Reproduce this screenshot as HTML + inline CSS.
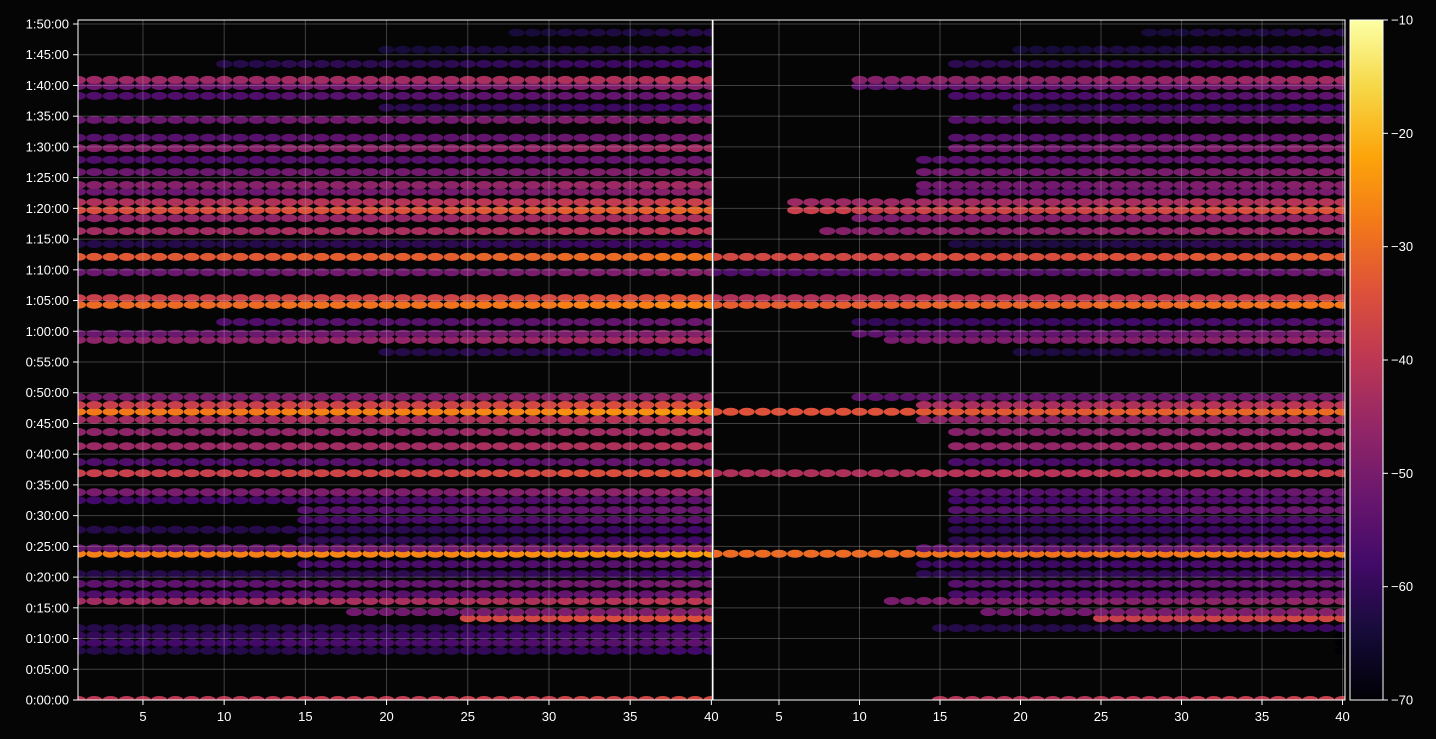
<!DOCTYPE html>
<html><head><meta charset="utf-8"><style>
body{margin:0;background:#050505;}
svg{display:block;font-family:"Liberation Sans",sans-serif;}
</style></head><body>
<svg id="chart" width="1436" height="739" viewBox="0 0 1436 739">
<rect x="0" y="0" width="1436" height="739" fill="#050505"/>
<defs>
<linearGradient id="cb" x1="0" y1="1" x2="0" y2="0">
<stop offset="0" stop-color="#000004"/><stop offset="0.1" stop-color="#160b39"/><stop offset="0.2" stop-color="#420a68"/><stop offset="0.3" stop-color="#6a176e"/><stop offset="0.4" stop-color="#932667"/><stop offset="0.5" stop-color="#bc3754"/><stop offset="0.6" stop-color="#dd513a"/><stop offset="0.7" stop-color="#f37819"/><stop offset="0.8" stop-color="#fca50a"/><stop offset="0.9" stop-color="#f6d746"/><stop offset="1" stop-color="#fcffa4"/>
</linearGradient>
<clipPath id="clipL"><rect x="78" y="20" width="634" height="680"/></clipPath>
<clipPath id="clipR"><rect x="714" y="20" width="631" height="680"/></clipPath>
</defs>
<g id="marksL" clip-path="url(#clipL)"></g>
<g id="marksR" clip-path="url(#clipR)"></g>
<g id="grid"></g>
<g id="axes"></g>
</svg>
<script>
// rows: time in minutes
const rowTimes  = [0, 8, 9.3, 10.5, 11.7, 13.3, 14.3, 16.1, 17.2, 18.9, 20.5, 22.1, 23.8, 24.7, 26, 27.7, 29.3, 30.9, 32.5, 33.8, 36.9, 38.7, 41.3, 43.6, 45.6, 46.9, 48, 49.3, 56.6, 58.6, 59.6, 61.5, 64.3, 65.4, 69.6, 72.1, 74.2, 76.3, 78.4, 79.7, 81, 82.7, 83.8, 85.9, 87.9, 89.8, 91.5, 94.4, 96.4, 98.3, 99.9, 100.9, 103.5, 105.8, 108.6];
const leftValues  = [-40, -62, -58, -60, -62, -38, -52, -44, -56, -54, -62, -58, -27, -52, -62, -62, -58, -56, -58, -50, -38, -56, -45, -47, -44, -28, -38, -50, -63, -47, -52, -56, -30, -38, -52, -33, -62, -44, -47, -35, -42, -52, -48, -52, -56, -48, -55, -52, -62, -56, -52, -45, -62, -65, -66];
const leftStart   = [1, 1, 1, 1, 1, 25, 18, 1, 1, 1, 1, 15, 1, 1, 15, 1, 15, 15, 1, 1, 1, 1, 1, 1, 1, 1, 1, 1, 20, 1, 1, 10, 1, 1, 1, 1, 1, 1, 1, 1, 1, 1, 1, 1, 1, 1, 1, 1, 20, 1, 1, 1, 10, 20, 28];
const rightValues = [-42, -75, -75, -75, -63, -40, -52, -50, -58, -56, -62, -60, -30, -54, -62, -62, -60, -56, -59, -56, -42, -58, -47, -49, -48, -34, -44, -54, -64, -50, -54, -60, -32, -42, -56, -36, -64, -48, -50, -38, -45, -54, -52, -52, -56, -52, -56, -56, -62, -58, -54, -48, -62, -65, -66];
const rightStart  = [15, 40, 40, 40, 15, 25, 18, 12, 16, 16, 14, 14, 1, 14, 16, 16, 16, 16, 16, 16, 1, 16, 16, 16, 14, 1, 14, 10, 20, 12, 10, 10, 1, 1, 1, 1, 16, 8, 10, 6, 6, 14, 14, 14, 14, 16, 16, 16, 20, 16, 10, 10, 16, 20, 28];
// column gain per channel (dB) 1..40
const colGain = [0,0,0,0,0,0,0,0,0,0,0,0,0,1,1,1,1,1,1,1,1,1,1,1,2,2,2,2,2,2,3,3,3,3,3,3,4,4,4,4];
const xTicks = [5,10,15,20,25,30,35,40];
const yTickMinutes = [0,5,10,15,20,25,30,35,40,45,50,55,60,65,70,75,80,85,90,95,100,105,110];
const cbTicks = [-10,-20,-30,-40,-50,-60,-70];

const NS="http://www.w3.org/2000/svg";
const yOf = t => 700 - t*(676/110);
const xL = c => 78 + (c-1)*16.24;
const xR = c => 714.6 + (c-1)*16.1;
const cbY = v => 700 - (v+70)*(680/60);
const stops=[[0,0,0,4],[.1,22,11,57],[.2,66,10,104],[.3,106,23,110],[.4,147,38,103],[.5,188,55,84],[.6,221,81,58],[.7,243,120,25],[.8,252,165,10],[.9,246,215,70],[1,252,255,164]];
function cmap(v){let f=Math.max(0,Math.min(1,(v+70)/60));for(let i=1;i<stops.length;i++){if(f<=stops[i][0]){const a=stops[i-1],b=stops[i];const k=(f-a[0])/(b[0]-a[0]);return `rgb(${Math.round(a[1]+k*(b[1]-a[1]))},${Math.round(a[2]+k*(b[2]-a[2]))},${Math.round(a[3]+k*(b[3]-a[3]))})`;}}return 'rgb(252,255,164)';}
function el(tag,attrs,parent){const e=document.createElementNS(NS,tag);for(const k in attrs)e.setAttribute(k,attrs[k]);parent.appendChild(e);return e;}

const gL=document.getElementById('marksL'), gR=document.getElementById('marksR');
for(let r=0;r<rowTimes.length;r++){
  for(let c=1;c<=40;c++){
    if(c>=leftStart[r]){
      const v=leftValues[r]+colGain[c-1];
      const e=el('ellipse',{cx:xL(c),cy:yOf(rowTimes[r]),rx:8,ry:4,fill:cmap(v)},gL);
      
      
    }
    if(c>=rightStart[r]){
      const v=rightValues[r]+colGain[c-1];
      const e=el('ellipse',{cx:xR(c),cy:yOf(rowTimes[r]),rx:8,ry:4,fill:cmap(v)},gR);
      
      
    }
  }
}
const grid=document.getElementById('grid'), axes=document.getElementById('axes');
yTickMinutes.forEach(m=>{
  const y=yOf(m);
  const l=el('line',{x1:78,x2:1345,y1:y,y2:y,stroke:'#b0b0b0','stroke-opacity':0.35,'stroke-width':1},grid);
  
  
  el('line',{x1:73,x2:78,y1:y,y2:y,stroke:'#fff'},axes);
  const h=Math.floor(m/60), mm=m%60;
  const t=el('text',{x:69,y:y+4.5,fill:'#fff','font-size':13,'text-anchor':'end'},axes);
  t.textContent=h+':'+String(mm).padStart(2,'0')+':00';
  
  
});
xTicks.forEach(v=>{
  [[xL,'left'],[xR,'right']].forEach(([fx,side])=>{
    const x=fx(v);
    const l=el('line',{x1:x,x2:x,y1:20,y2:700,stroke:'#b0b0b0','stroke-opacity':0.35},grid);
    
    
    el('line',{x1:x,x2:x,y1:700,y2:705,stroke:'#fff'},axes);
    const t=el('text',{x:x,y:721,fill:'#fff','font-size':13,'text-anchor':'middle'},axes);
    t.textContent=v;
    
    
  });
});
const f1=el('rect',{x:78,y:20,width:634.5,height:680,fill:'none',stroke:'#fff','stroke-width':1},axes);


const f2=el('rect',{x:713,y:20,width:632,height:680,fill:'none',stroke:'#fff','stroke-width':1},axes);


const cb=el('rect',{x:1350,y:20,width:33,height:680,fill:'url(#cb)',stroke:'#fff','stroke-width':1},axes);


cbTicks.forEach(v=>{
  const y=cbY(v);
  el('line',{x1:1383,x2:1388,y1:y,y2:y,stroke:'#fff'},axes);
  const t=el('text',{x:1391,y:y+4.5,fill:'#fff','font-size':13},axes);
  t.textContent='\u2212'+Math.abs(v);
  
  
});
</script>
</body></html>
